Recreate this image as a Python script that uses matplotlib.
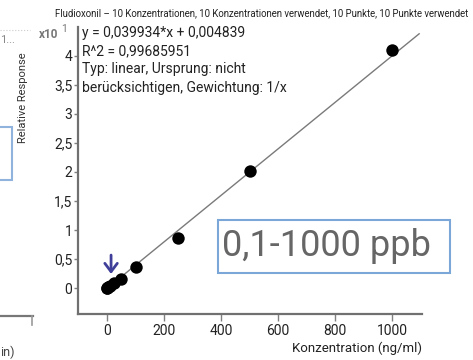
import numpy as np
import matplotlib
matplotlib.use('Agg')
import matplotlib.pyplot as plt
from matplotlib.ticker import FuncFormatter, FixedLocator
from matplotlib.patches import Rectangle
from matplotlib.lines import Line2D

plt.rcParams['font.family'] = ['Roboto', 'DejaVu Sans']

# calibration data (concentration in ng/ml, relative response)
conc = [0.1, 1, 5, 10, 25, 50, 100, 250, 500, 1000]
resp = [0.05, 0.1, 0.25, 0.45, 1.0, 1.6, 3.7, 8.7, 20.2, 40.9]
slope = 0.039934
intercept = 0.004839
xticks = [0, 200, 400, 600, 800, 1000]
yticks = [0, 0.5, 1, 1.5, 2, 2.5, 3, 3.5, 4]

W, H = 473, 360
fig = plt.figure(figsize=(W / 100, H / 100), dpi=100)

def fx(px):
    return px / W

def fy(py):
    return 1 - py / H

ax = fig.add_axes([fx(78), fy(314), (422 - 78) / W, (314 - 27) / H])

xs = np.array([0, 1095])
ax.plot(xs, (slope * xs + intercept) / 10, color='#7a7a7a', lw=1.0, zorder=2)
ax.scatter(conc, np.array(resp) / 10, s=80, color='black', zorder=3, linewidths=0)

ax.annotate('', xy=(14, 0.20), xytext=(14, 0.62),
            arrowprops=dict(arrowstyle='->,head_width=0.45,head_length=0.6',
                            color='#3f3f9a', lw=2.0))

ax.set_xlim(-102, 1105)
ax.set_ylim(-0.44, 4.49)
ax.xaxis.set_major_locator(FixedLocator(xticks))
ax.yaxis.set_major_locator(FixedLocator(yticks))

def comma(v, pos):
    s = ('%g' % v).replace('.', ',')
    return s

ax.xaxis.set_major_formatter(FuncFormatter(comma))
ax.yaxis.set_major_formatter(FuncFormatter(comma))
for s in ['top', 'right']:
    ax.spines[s].set_visible(False)
for s in ['left', 'bottom']:
    ax.spines[s].set_color('#707070')
    ax.spines[s].set_linewidth(1.6)
ax.tick_params(axis='both', colors='#808080', labelcolor='#222222', labelsize=10, width=1)
ax.tick_params(axis='y', length=3, pad=1)
ax.tick_params(axis='x', length=5, pad=2)

fit_txt = ('y = 0,039934*x + 0,004839\nR^2 = 0,99685951\n'
           'Typ: linear, Ursprung: nicht\nberücksichtigen, Gewichtung: 1/x')
fig.text(fx(82), fy(26), fit_txt, fontsize=10, color='#222222', va='top', ha='left', linespacing=1.38)

fig.text(fx(262), fy(13), 'Fludioxonil \u2013 10 Konzentrationen, 10 Konzentrationen verwendet, 10 Punkte, 10 Punkte verwendet',
         fontsize=6.9, ha='center', va='center', color='#222222')

fig.text(fx(23), fy(98), 'Relative Response', rotation=90, fontsize=8, ha='center', va='center', color='#333333')
fig.text(fx(422), fy(348), 'Konzentration (ng/ml)', fontsize=9.5, ha='right', va='center', color='#222222')

# offset text
fig.text(fx(58), fy(35), 'x10', fontsize=8.5, ha='right', va='center', color='#777777', weight='bold')
fig.text(fx(64), fy(29), '1', fontsize=7.5, ha='center', va='center', color='#777777')

# range box
fig.patches.append(Rectangle((fx(218), fy(273)), fx(450) - fx(218), fy(220) - fy(273),
                             transform=fig.transFigure, fill=False, edgecolor='#7aa6d8', lw=1.5))
fig.text(fx(222), fy(246), '0,1-1000 ppb', fontsize=26, ha='left', va='center', color='#666666')

# fragments of the neighbouring chart at the left edge
fig.text(fx(0), fy(40), '1...', fontsize=8, ha='left', va='center', color='#888888')
fig.lines.append(Line2D([fx(0), fx(30)], [fy(30), fy(30)], transform=fig.transFigure,
                        color='#cccccc', lw=0.8, ls=':'))
fig.patches.append(Rectangle((fx(-20), fy(180)), fx(32), fy(127) - fy(180),
                             transform=fig.transFigure, fill=False, edgecolor='#8fb3dc', lw=1.5))
fig.lines.append(Line2D([fx(0), fx(33)], [fy(316), fy(316)], transform=fig.transFigure,
                        color='#777777', lw=1.6))
fig.lines.append(Line2D([fx(32), fx(32)], [fy(316), fy(325)], transform=fig.transFigure,
                        color='#999999', lw=1.2))
fig.text(fx(0), fy(352), 'in)', fontsize=9, ha='left', va='center', color='#444444')

fig.savefig('out.png', dpi=100)
